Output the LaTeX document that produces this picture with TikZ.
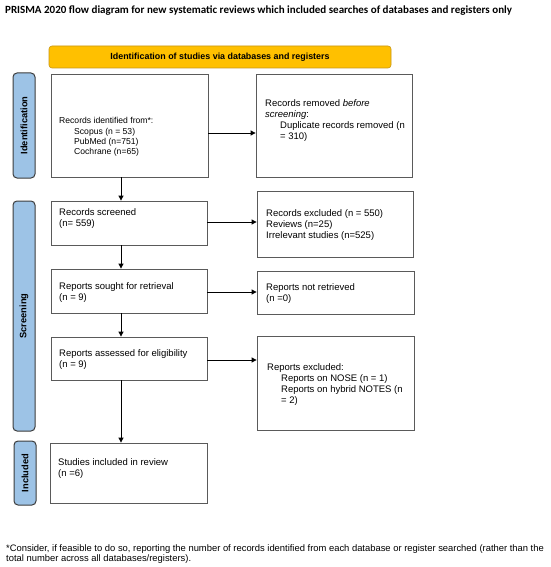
\documentclass[tikz,border=0pt]{standalone}
\usepackage{fontspec}
\setmainfont{Liberation Sans}
\newfontfamily\calibri{Carlito}
\usetikzlibrary{arrows.meta}
\definecolor{barblue}{RGB}{157,195,230}
\definecolor{baredge}{RGB}{60,60,60}
\definecolor{hdryellow}{RGB}{255,192,0}
\definecolor{hdredge}{RGB}{200,150,20}
\definecolor{boxedge}{RGB}{90,90,90}
\begin{document}
\begin{tikzpicture}[x=1pt,y=-1pt,
  flowbox/.style={draw=boxedge, line width=0.8pt, fill=white, inner sep=0pt},
  sidebar/.style={draw=baredge, line width=1pt, fill=barblue, rounded corners=4pt, inner sep=0pt,
    rotate=90, font=\fontsize{9.3}{11}\selectfont\bfseries},
  header/.style={draw=hdredge, line width=0.6pt, fill=hdryellow, rounded corners=3pt, inner sep=0pt,
    font=\fontsize{8.9}{11}\selectfont\bfseries},
  txt/.style={anchor=north west, align=left, inner sep=0pt, font=\fontsize{9.5}{10.8}\selectfont},
  smalltxt/.style={txt, font=\fontsize{8.6}{10.3}\selectfont},
  arr/.style={draw=black, line width=0.8pt, -{Triangle[length=5pt,width=5pt]}}]
\useasboundingbox (0,0) rectangle (550,567);
\fill[white] (0,0) rectangle (550,567);

% title
\node[anchor=base west, inner sep=0pt, font=\calibri\fontsize{11}{12}\selectfont\bfseries] (title) at (5,14)
  {PRISMA 2020 flow diagram for new systematic reviews which included searches of databases and registers only};

% header
\node[header, minimum width=342pt, minimum height=22pt] (hdr) at (220,57)
  {Identification of studies via databases and registers};

% side bars
\node[sidebar, minimum width=105pt, minimum height=22pt] (barid) at (24,125.5) {Identification};
\node[sidebar, minimum width=230pt, minimum height=22pt] (barsc) at (24,316) {Screening};
\node[sidebar, minimum width=64pt, minimum height=22pt] (barin) at (25,473) {Included};

% boxes
\node[flowbox, minimum width=157pt, minimum height=103pt] (b1) at (129.5,125.5) {};
\node[flowbox, minimum width=156pt, minimum height=103pt] (rr) at (334,125.5) {};
\node[flowbox, minimum width=156pt, minimum height=44pt] (rs) at (129,223) {};
\node[flowbox, minimum width=156pt, minimum height=66pt] (re) at (335,224) {};
\node[flowbox, minimum width=156pt, minimum height=44pt] (sr) at (129,291) {};
\node[flowbox, minimum width=157pt, minimum height=43pt] (nr) at (335.5,292.5) {};
\node[flowbox, minimum width=156pt, minimum height=43pt] (ra) at (129,358.5) {};
\node[flowbox, minimum width=157pt, minimum height=94pt] (rx) at (335.5,383) {};
\node[flowbox, minimum width=157pt, minimum height=60pt] (si) at (128.5,473) {};

% box texts
\node[smalltxt] (b1t) at (59,116) {\rule{0pt}{7.5pt}Records identified from*:\\
  \hspace*{15pt}Scopus (n = 53)\\ \hspace*{15pt}PubMed (n=751)\\ \hspace*{15pt}Cochrane (n=65)};
\node[txt] (rrt) at (265,99) {\rule{0pt}{7.5pt}Records removed \textit{before}\\ \textit{screening}:\\
  \hspace*{15pt}Duplicate records removed (n\\ \hspace*{15pt}= 310)};
\node[txt] (rst) at (59,208) {\rule{0pt}{7.5pt}Records screened\\ (n= 559)};
\node[txt] (ret) at (266,209) {\rule{0pt}{7.5pt}Records excluded (n = 550)\\ Reviews (n=25)\\ Irrelevant studies (n=525)};
\node[txt] (srt) at (59,282) {\rule{0pt}{7.5pt}Reports sought for retrieval\\ (n = 9)};
\node[txt] (nrt) at (266,283) {\rule{0pt}{7.5pt}Reports not retrieved\\ (n =0)};
\node[txt] (rat) at (59,349) {\rule{0pt}{7.5pt}Reports assessed for eligibility\\ (n = 9)};
\node[txt] (rxt) at (267,363) {\rule{0pt}{7.5pt}Reports excluded:\\
  \hspace*{14pt}Reports on NOSE (n = 1)\\ \hspace*{14pt}Reports on hybrid NOTES (n\\ \hspace*{14pt}= 2)};
\node[txt] (sit) at (58,458) {\rule{0pt}{7.5pt}Studies included in review\\ (n =6)};

% footnote
\node[txt, font=\fontsize{9.4}{10.2}\selectfont] (foot) at (6,544) {\rule{0pt}{7.5pt}*Consider, if feasible to do so, reporting the number of records identified from each database or register searched (rather than the\\
  total number across all databases/registers).};

% connectors
\coordinate (spine) at (121,0);
\coordinate (h1) at (0,133);
\coordinate (h2) at (0,222);
\coordinate (h3) at (0,292);
\coordinate (h4) at (0,360);
\draw[arr] (b1.south -| spine) -- (rs.north -| spine);
\draw[arr] (rs.south -| spine) -- (sr.north -| spine);
\draw[arr] (sr.south -| spine) -- (ra.north -| spine);
\draw[arr] (ra.south -| spine) -- (si.north -| spine);
\draw[arr] (b1.east |- h1) -- (rr.west |- h1);
\draw[arr] (rs.east |- h2) -- (re.west |- h2);
\draw[arr] (sr.east |- h3) -- (nr.west |- h3);
\draw[arr] (ra.east |- h4) -- (rx.west |- h4);
\end{tikzpicture}
\end{document}
